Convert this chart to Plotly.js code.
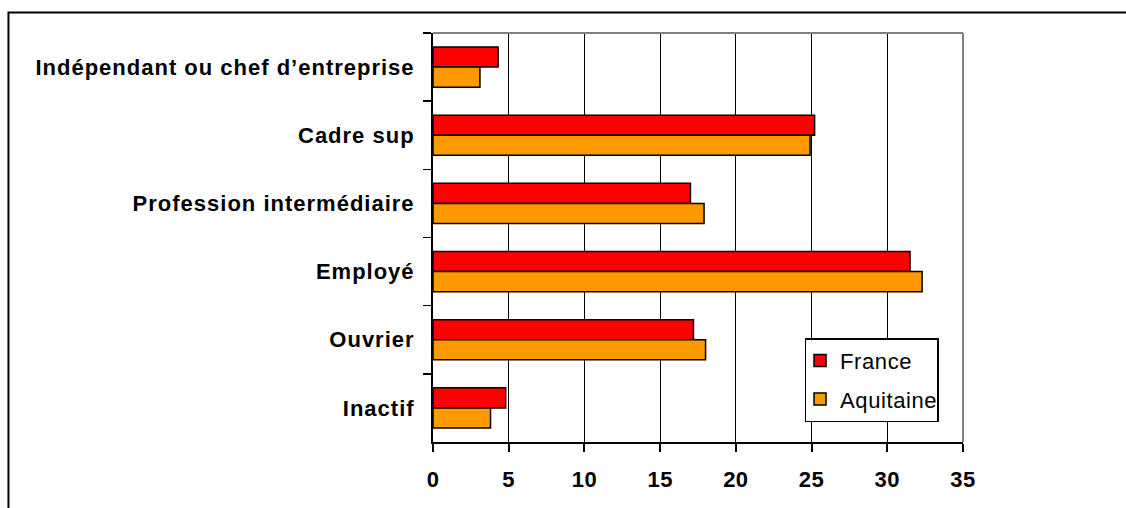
<!DOCTYPE html>
<html>
<head>
<meta charset="utf-8">
<script src="https://cdn.plot.ly/plotly-3.0.1.min.js"></script>
<style>
  html, body { margin: 0; padding: 0; background: #ffffff; }
  #chart { width: 1126px; height: 508px; }
  #chart .ytick text { letter-spacing: 1px; }
  #chart .xtick text { letter-spacing: 0.5px; }
  #chart .legendtext { letter-spacing: 0.6px; }
</style>
</head>
<body>
<div id="chart"></div>
<script>
const categories = [
  "Indépendant ou chef d’entreprise",
  "Cadre sup",
  "Profession intermédiaire",
  "Employé",
  "Ouvrier",
  "Inactif"
];
const franceValues = [4.3, 25.2, 17.0, 31.5, 17.2, 4.8];
const aquitaineValues = [3.1, 24.9, 17.9, 32.3, 18.0, 3.8];
const xTicks = [0, 5, 10, 15, 20, 25, 30, 35];

const traces = [
  {
    type: "bar", orientation: "h", name: "France",
    y: categories, x: franceValues, legendgroup: "a",
    marker: { color: "#FF0000", line: { color: "#000000", width: 1.5 } },
    hoverinfo: "x+y"
  },
  {
    type: "bar", orientation: "h", name: "Aquitaine",
    y: categories, x: aquitaineValues, legendgroup: "b",
    marker: { color: "#FF9900", line: { color: "#000000", width: 1.5 } },
    hoverinfo: "x+y"
  }
];

const layout = {
  width: 1126, height: 508,
  margin: { l: 433, r: 163, t: 33, b: 66, pad: 0 },
  paper_bgcolor: "#ffffff", plot_bgcolor: "#ffffff",
  barmode: "group", bargap: 0.41, bargroupgap: 0,
  font: { family: "Arial, 'Liberation Sans', sans-serif", color: "#000000" },
  xaxis: {
    range: [0, 35], tickvals: xTicks, ticktext: xTicks.map(String),
    showgrid: true, gridcolor: "#000000", gridwidth: 1,
    showline: true, linecolor: "#000000", linewidth: 2,
    ticks: "outside", ticklen: 8, tickcolor: "#000000", tickwidth: 2,
    ticklabelstandoff: 9,
    tickfont: { size: 22, family: "Arial, 'Liberation Sans', sans-serif", weight: "bold" },
    zeroline: false, fixedrange: true
  },
  yaxis: {
    type: "category", autorange: "reversed", categoryorder: "array", categoryarray: categories,
    showline: true, linecolor: "#000000", linewidth: 2,
    ticks: "outside", tickson: "boundaries", ticklen: 8, tickcolor: "#000000", tickwidth: 1.5,
    ticklabelstandoff: 12,
    tickfont: { size: 22, family: "Arial, 'Liberation Sans', sans-serif", weight: "bold" },
    showgrid: false, zeroline: false, fixedrange: true
  },
  legend: {
    x: 0.701, y: 0.254, xanchor: "left", yanchor: "top",
    bgcolor: "#ffffff", bordercolor: "#000000", borderwidth: 1.5,
    font: { size: 22, family: "Arial, 'Liberation Sans', sans-serif" },
    traceorder: "grouped", tracegroupgap: 7, itemwidth: 30, indentation: -6
  },
  showlegend: true,
  shapes: [
    { type: "line", xref: "paper", yref: "paper", x0: 0, x1: 1, y0: 1, y1: 1,
      line: { color: "#808080", width: 2 }, layer: "above" },
    { type: "line", xref: "paper", yref: "paper", x0: 1, x1: 1, y0: 0, y1: 1,
      line: { color: "#808080", width: 2 }, layer: "above" },
    { type: "rect", xref: "paper", yref: "paper",
      x0: -0.801, x1: 1.4, y0: -0.25, y1: 1.050,
      line: { color: "#000000", width: 2 }, fillcolor: "rgba(0,0,0,0)", layer: "above" }
  ]
};

Plotly.newPlot("chart", traces, layout, { displayModeBar: false, staticPlot: true });
</script>
</body>
</html>
